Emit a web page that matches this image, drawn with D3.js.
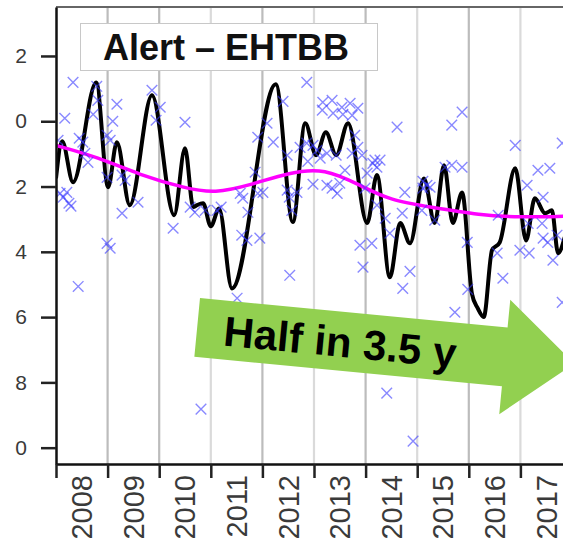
<!DOCTYPE html>
<html>
<head>
<meta charset="utf-8">
<script src="https://cdn.jsdelivr.net/npm/d3@7"></script>
<style>
  html, body { margin: 0; padding: 0; background: #fff; }
  svg { display: block; font-family: "Liberation Sans", Arial, sans-serif; }
</style>
</head>
<body>
<svg id="chart" width="563" height="546"></svg>
<script>
// Monthly observations (decimal year, value)
const obsYear = [
  2008.04, 2008.08, 2008.14, 2008.17, 2008.21, 2008.25, 2008.29, 2008.33, 2008.43, 2008.45,
  2008.52, 2008.56, 2008.62, 2008.72, 2008.79, 2008.81, 2008.99, 2008.99, 2008.99, 2009.05,
  2009.05, 2009.10, 2009.18, 2009.28, 2009.28, 2009.34, 2009.59, 2009.86, 2009.94, 2010.02,
  2010.27, 2010.50, 2010.60, 2010.69, 2010.81, 2010.89, 2011.12, 2011.20, 2011.51, 2011.57,
  2011.62, 2011.60, 2011.70, 2011.72, 2011.86, 2011.91, 2011.91, 2011.95, 2012.01, 2012.09,
  2012.21, 2012.40, 2012.48, 2012.48, 2012.52, 2012.53, 2012.57, 2012.67, 2012.73, 2012.86,
  2012.86, 2012.88, 2012.98, 2012.98, 2013.06, 2013.12, 2013.17, 2013.16, 2013.25, 2013.25,
  2013.35, 2013.37, 2013.35, 2013.43, 2013.45, 2013.50, 2013.54, 2013.56, 2013.60, 2013.70,
  2013.74, 2013.74, 2013.79, 2013.85, 2013.85, 2013.89, 2013.93, 2013.95, 2013.99, 2014.03,
  2014.12, 2014.14, 2014.18, 2014.22, 2014.22, 2014.28, 2014.38, 2014.41, 2014.47, 2014.61,
  2014.71, 2014.72, 2014.76, 2014.86, 2014.92, 2015.09, 2015.11, 2015.11, 2015.19, 2015.25,
  2015.34, 2015.54, 2015.67, 2015.67, 2015.73, 2015.87, 2015.87, 2015.97, 2015.98, 2016.55,
  2016.57, 2016.66, 2016.90, 2016.99, 2017.13, 2017.15, 2017.17, 2017.34, 2017.42, 2017.44,
  2017.44, 2017.53, 2017.57, 2017.63, 2017.71, 2017.81, 2017.81
];
const obsValue = [
  0.58, 2.21, 2.33, -0.09, 2.18, 2.51, 2.60, -1.19, 5.06, 0.52,
  0.64, 0.98, 1.26, -0.21, -1.07, -0.64, 0.43, 1.72, 3.74, 0.58,
  3.89, 0.00, -0.52, 1.65, 2.82, 1.81, 2.48, -0.95, -0.03, -0.43,
  3.28, 0.03, 2.63, 2.79, 8.82, 2.73, 2.73, 2.63, 5.42, 2.21,
  2.36, 3.49, 3.65, 2.79, 1.56, 0.49, 2.21, 3.58, 2.18, 0.06,
  0.64, -0.61, 1.04, 2.11, 2.33, 4.72, 2.73, 2.18, 0.80, -1.19,
  0.67, 1.23, 0.74, 1.93, 0.89, 1.13, -0.58, -0.34, 0.98, 1.96,
  -0.64, -0.25, 2.05, 1.04, 2.21, 1.90, -0.43, -0.21, 1.50, -0.55,
  -0.18, 0.98, 0.43, -0.40, 0.80, 3.80, 1.04, 4.47, 2.05, 1.59,
  3.74, 1.29, 1.19, 1.41, 2.57, 1.19, 2.97, 8.33, 3.43, 0.18,
  2.82, 5.12, 2.18, 4.60, 9.80, 2.73, 1.84, 2.05, 1.96, 2.02,
  3.03, 1.41, 0.12, 1.35, 5.85, -0.28, 1.41, 3.71, 5.15, 4.04,
  2.88, 4.81, 0.74, 3.95, 1.96, 3.13, 4.04, 1.50, 3.13, 2.33,
  3.58, 3.71, 1.44, 4.26, 3.49, 0.67, 5.55
];

// Short-span smoother
const smoothYear = [
  2008.00, 2008.12, 2008.33, 2008.78, 2009.01, 2009.18, 2009.43, 2009.86, 2010.29, 2010.50,
  2010.66, 2010.73, 2010.85, 2011.00, 2011.16, 2011.41, 2012.26, 2012.59, 2012.83, 2013.04,
  2013.23, 2013.43, 2013.66, 2014.03, 2014.22, 2014.47, 2014.67, 2014.86, 2015.13, 2015.34,
  2015.52, 2015.69, 2015.87, 2016.06, 2016.17, 2016.29, 2016.45, 2016.60, 2016.90, 2017.11,
  2017.28, 2017.48, 2017.61, 2017.73, 2017.86
];
const smoothValue = [
  1.75, 0.61, 1.87, -1.19, 2.02, 0.64, 2.57, -0.80, 2.88, 0.83,
  2.63, 2.57, 2.51, 3.22, 2.67, 5.12, -1.13, 3.09, 0.06, 1.04,
  0.34, 1.04, 0.06, 3.12, 1.65, 4.78, 3.12, 3.74, 1.75, 3.12,
  1.35, 3.12, 2.18, 5.28, 5.72, 6.00, 3.95, 3.71, 1.44, 3.65,
  2.36, 2.82, 2.73, 4.04, 3.55
];

// Long-term trend
const trendYear = [
  2008.00, 2008.81, 2009.63, 2010.50, 2011.08, 2011.76, 2012.53, 2013.21, 2013.89, 2014.47,
  2015.25, 2016.22, 2017.00, 2017.86
];
const trendValue = [
  0.74, 1.10, 1.65, 2.05, 2.21, 1.96, 1.56, 1.44, 1.96, 2.42,
  2.63, 2.88, 2.94, 2.91
];

const yearBoundaries = [2008, 2009, 2010, 2011, 2012, 2013, 2014, 2015, 2016, 2017, 2018];
const yearLabels = ["2008", "2009", "2010", "2011", "2012", "2013", "2014", "2015", "2016", "2017"];
const yTickValues = [-2, 0, 2, 4, 6, 8, 10];
const yTickLabels = ["2", "0", "2", "4", "6", "8", "0"];

const titleText = "Alert \u2013 EHTBB";
const arrowText = "Half in 3.5 y";

const svg = d3.select("#chart");
const W = 563, H = 546;
const plot = { left: 56, top: 7, right: 572, bottom: 464 };

const x = d3.scaleLinear().domain([2008, 2018]).range([plot.left, plot.right]);
const y = d3.scaleLinear().domain([-3.5, 10.5]).range([plot.top, plot.bottom]);

svg.append("defs").append("clipPath").attr("id", "plotClip")
  .append("rect")
  .attr("x", plot.left).attr("y", plot.top)
  .attr("width", plot.right - plot.left).attr("height", plot.bottom - plot.top);

// Year gridlines
svg.append("g")
  .selectAll("line")
  .data(yearBoundaries.slice(1))
  .join("line")
  .attr("x1", d => x(d)).attr("x2", d => x(d))
  .attr("y1", plot.top).attr("y2", plot.bottom)
  .attr("stroke", d => (d >= 2011 && d % 2 === 1) ? "#dadada" : "#bcbcbc")
  .attr("stroke-width", 2.2);

// Top frame
svg.append("line")
  .attr("x1", plot.left).attr("x2", W)
  .attr("y1", plot.top).attr("y2", plot.top)
  .attr("stroke", "#666").attr("stroke-width", 2);

const series = g => g.attr("clip-path", "url(#plotClip)");

// Smoothed series
const smoothData = smoothYear.map((t, i) => [t, smoothValue[i]]);
svg.append("g").call(series)
  .append("path")
  .datum(smoothData)
  .attr("fill", "none")
  .attr("stroke", "#000")
  .attr("stroke-width", 4)
  .attr("stroke-linejoin", "round")
  .attr("d", d3.line().x(d => x(d[0])).y(d => y(d[1])).curve(d3.curveMonotoneX));

// Trend
const trendData = trendYear.map((t, i) => [t, trendValue[i]]);
svg.append("g").call(series)
  .append("path")
  .datum(trendData)
  .attr("fill", "none")
  .attr("stroke", "#ff00ff")
  .attr("stroke-width", 3.5)
  .attr("d", d3.line().x(d => x(d[0])).y(d => y(d[1])).curve(d3.curveBasis));

// Observations as crosses
const obsData = obsYear.map((t, i) => [t, obsValue[i]]);
const r = 5.3;
svg.append("g").call(series)
  .selectAll("path")
  .data(obsData)
  .join("path")
  .attr("transform", d => `translate(${x(d[0])},${y(d[1])})`)
  .attr("d", `M${-r},${-r}L${r},${r}M${-r},${r}L${r},${-r}`)
  .attr("stroke", "#3a3aff")
  .attr("stroke-opacity", 0.6)
  .attr("stroke-width", 1.4)
  .attr("fill", "none");

// Axes
const yAxis = svg.append("g")
  .attr("transform", `translate(${plot.left},0)`)
  .call(d3.axisLeft(y).tickValues(yTickValues)
    .tickFormat((d, i) => yTickLabels[i]).tickSize(15).tickPadding(14).tickSizeOuter(0));
yAxis.select(".domain").attr("stroke", "#111").attr("stroke-width", 2.5);
yAxis.selectAll(".tick line").attr("stroke", "#222").attr("stroke-width", 2.5);
yAxis.selectAll(".tick text")
  .attr("fill", "#3a3a3a").attr("font-size", 21).attr("font-family", "Liberation Sans, Arial, sans-serif");

const xAxis = svg.append("g")
  .attr("transform", `translate(0,${plot.bottom})`)
  .call(d3.axisBottom(x).tickValues(yearBoundaries).tickFormat("").tickSize(14).tickSizeOuter(0));
xAxis.select(".domain").attr("stroke", "#111").attr("stroke-width", 2.5);
xAxis.selectAll(".tick line").attr("stroke", "#222").attr("stroke-width", 2.5);

svg.append("g")
  .selectAll("text")
  .data(yearLabels)
  .join("text")
  .attr("transform", d => `translate(${x(+d + 0.5)},${plot.bottom + 11}) rotate(-90)`)
  .attr("text-anchor", "end")
  .attr("dy", "0.36em")
  .attr("font-size", 29)
  .attr("fill", "#3a3a3a")
  .text(d => d);

// Title box
svg.append("rect")
  .attr("x", 80.5).attr("y", 23.5).attr("width", 297).attr("height", 47)
  .attr("fill", "#fff").attr("stroke", "#c8c8c8").attr("stroke-width", 1);
svg.append("text")
  .attr("x", 226).attr("y", 60)
  .attr("text-anchor", "middle")
  .attr("font-size", 36).attr("font-weight", "bold").attr("fill", "#111")
  .text(titleText);

// Annotation arrow
const arrow = svg.append("g").attr("transform", "translate(200,298) rotate(5.5)");
arrow.append("path")
  .attr("d", "M0,0L309,0L309,-28L379,29.5L309,87L309,59L0,59Z")
  .attr("fill", "#92d050");
arrow.append("text")
  .attr("x", 27).attr("y", 45)
  .attr("font-size", 42).attr("font-weight", "bold").attr("fill", "#000")
  .text(arrowText);
</script>
</body>
</html>
